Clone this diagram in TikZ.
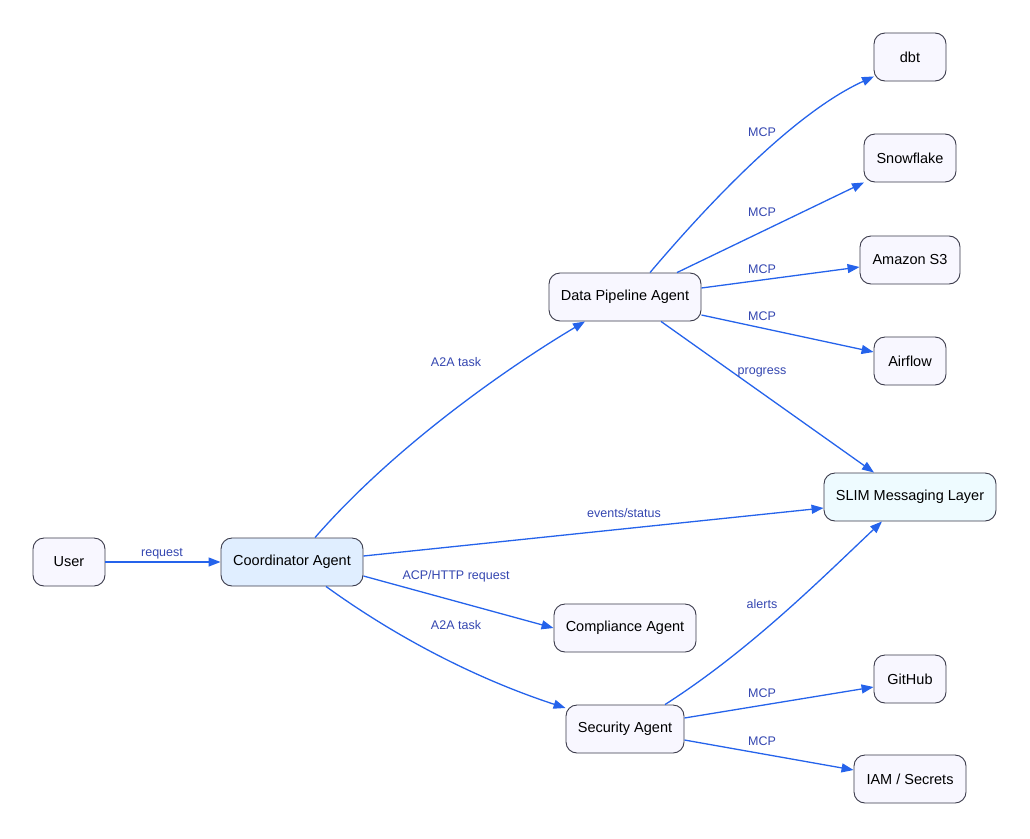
\documentclass[tikz,border=0pt]{standalone}
\usepackage{fontspec}
\setmainfont{Liberation Sans}
\usetikzlibrary{arrows.meta, positioning}
\definecolor{nodefill}{HTML}{F8F7FF}
\definecolor{coordfill}{HTML}{E0EEFF}
\definecolor{slimfill}{HTML}{EEFBFF}
\definecolor{edgeblue}{HTML}{2563EB}
\definecolor{labelblue}{HTML}{3446B0}
\definecolor{borderdark}{HTML}{3A3A4A}

\begin{document}
\begin{tikzpicture}[
    x=1pt, y=-1pt,
    % Node styles
    agent/.style={
        rectangle,
        rounded corners=11pt,
        draw=borderdark,
        line width=0.9pt,
        fill=nodefill,
        minimum height=48pt,
        inner xsep=2pt,
        font=\fontsize{14.5}{16}\selectfont,
        align=center
    },
    flow/.style={
        -{Triangle[length=12pt, width=9pt]},
        edgeblue,
        line width=1.3pt
    },
    lbl/.style={
        font=\fontsize{12.5}{14}\selectfont,
        text=labelblue
    }
]

\useasboundingbox (0,0) rectangle (1030,838);

% === Left side ===
\node[agent, minimum width=72pt] (user) at (69,562) {User};
\node[agent, minimum width=142pt, fill=coordfill] (coord) at (292,562) {Coordinator Agent};

% === Agents ===
\node[agent, minimum width=152pt] (pipe) at (625,297) {Data Pipeline Agent};
\node[agent, minimum width=142pt] (comp) at (625,628) {Compliance Agent};
\node[agent, minimum width=118pt] (sec) at (625,729) {Security Agent};
\node[agent, minimum width=172pt, fill=slimfill] (slim) at (910,497) {SLIM Messaging Layer};

% === Tools ===
\node[agent, minimum width=72pt] (dbt) at (910,57) {dbt};
\node[agent, minimum width=92pt] (snow) at (910,158) {Snowflake};
\node[agent, minimum width=100pt] (s3) at (910,260) {Amazon S3};
\node[agent, minimum width=72pt] (air) at (910,361) {Airflow};
\node[agent, minimum width=72pt] (gh) at (910,679) {GitHub};
\node[agent, minimum width=112pt] (iam) at (910,779) {IAM / Secrets};

% === Arrows ===
\draw[flow] (user) -- (coord);
\node[lbl] (lreq) at (162,554) {request};

\draw[flow] ([xshift=23pt]coord.north) .. controls (400,440) and (520,360) .. ([xshift=-40pt]pipe.south);
\node[lbl] (la2a) at (456,362) {A2A task};

\draw[flow] ([yshift=6pt]coord.east) -- (slim.west |- 0,508);
\node[lbl] (lev) at (624,513) {events/status};

\draw[flow] ([yshift=-14pt]coord.east) -- (comp.west);
\node[lbl] (lacp) at (456,576) {ACP/HTTP request};

\draw[flow] ([xshift=34pt]coord.south) .. controls (400,640) and (480,680) .. (sec.west |- 0,708);
\node[lbl] (la2b) at (456,625) {A2A task};

% === Pipeline tools ===
\draw[flow] ([xshift=25pt]pipe.north) .. controls (720,190) and (800,110) .. ([xshift=-36pt,yshift=5pt]dbt.south);
\node[lbl] (m1) at (762,132) {MCP};
\draw[flow] ([xshift=52pt]pipe.north) -- ([xshift=-46pt]snow.south);
\node[lbl] (m2) at (762,212) {MCP};
\draw[flow] ([yshift=9pt]pipe.east) -- (s3.west |- 0,267);
\node[lbl] (m3) at (762,269) {MCP};
\draw[flow] ([yshift=-18pt]pipe.east) -- (air.west |- 0,352);
\node[lbl] (m4) at (762,316) {MCP};
\draw[flow] ([xshift=36pt]pipe.south) -- ([xshift=-36pt]slim.north);
\node[lbl] (lpr) at (762,372) {progress};

% === Security tools ===
\draw[flow] ([xshift=40pt]sec.north) .. controls (750,650) and (820,580) .. ([xshift=-28pt]slim.south);
\node[lbl] (lal) at (762,604) {alerts};
\draw[flow] ([yshift=11pt]sec.east) -- (gh.west |- 0,687);
\node[lbl] (m5) at (762,693) {MCP};
\draw[flow] ([yshift=-11pt]sec.east) -- (iam.west |- 0,770);
\node[lbl] (m6) at (762,741) {MCP};

\end{tikzpicture}
\end{document}
